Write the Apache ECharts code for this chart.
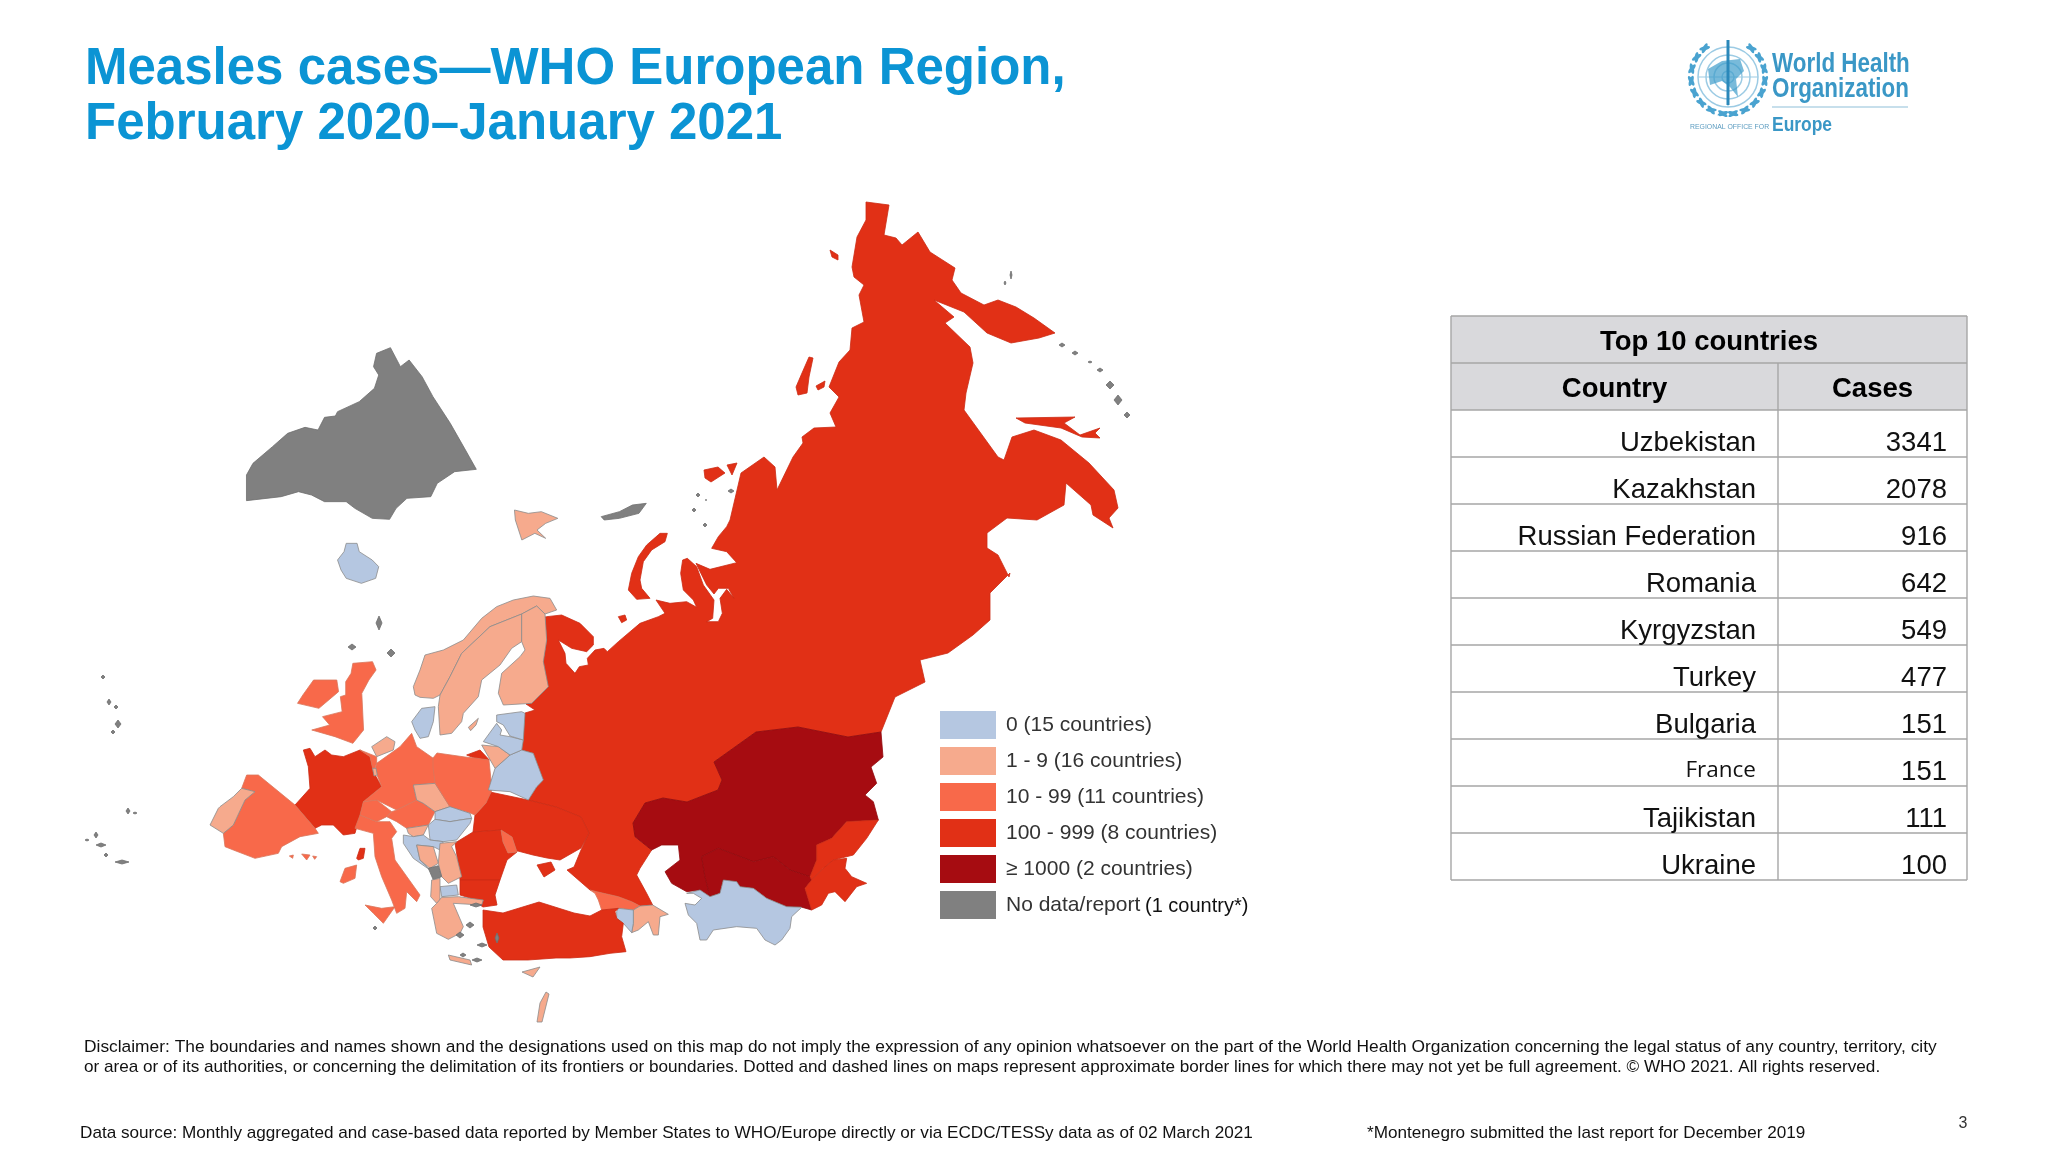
<!DOCTYPE html>
<html><head><meta charset="utf-8">
<style>html,body{margin:0;padding:0;background:#fff}#c{width:2048px;height:1152px}</style>
<script src="https://cdn.jsdelivr.net/npm/echarts@6/dist/echarts.min.js"></script>
</head><body><div id="c"></div>
<script>
// ---------- data ----------
const tableCountries = ['Uzbekistan','Kazakhstan','Russian Federation','Romania','Kyrgyzstan','Turkey','Bulgaria','France','Tajikistan','Ukraine'];
const tableCases = [3341,2078,916,642,549,477,151,151,111,100];
const legendLabels = ['0 (15 countries)','1 - 9 (16 countries)','10 - 99 (11 countries)','100 - 999 (8 countries)','≥ 1000 (2 countries)','No data/report'];
const bandColors = ['#b5c7e1','#f6aa8d','#f8694a','#e13016','#a60c11','#808080'];
const NO_DATA = 99999; // marker for "No data/report", sorted after the last band in the legend
// map regions and their case counts (bands read from the map colours; exact only for the top 10)
const regionNames = ['Russian Federation','Kazakhstan','Uzbekistan','Kyrgyzstan','Tajikistan','Turkmenistan','Georgia','Azerbaijan','Armenia','Turkey','Ukraine','Romania','Moldova','Bulgaria','France','Spain','Portugal','Italy','Switzerland','Germany','Austria','Belgium','Netherlands','Luxembourg','Czechia','Poland','Slovakia','Hungary','Slovenia','Croatia','Bosnia and Herzegovina','Serbia','Montenegro','North Macedonia','Albania','Greece','Belarus','Lithuania','Latvia','Estonia','United Kingdom','Ireland','Norway','Sweden','Finland','Denmark','Iceland','Greenland','Svalbard','Cyprus','Israel','Islands'];
const regionCases = [916,2078,3341,549,111,0,40,5,0,477,100,642,20,151,151,60,4,90,30,70,25,15,5,2,6,50,0,0,3,0,5,6,NO_DATA,0,3,5,0,4,0,0,80,45,3,6,2,0,0,NO_DATA,3,2,3,NO_DATA];

// ---------- map geometry ----------
const Z = (ox,oy,fx,pts) => pts.map(p => [ox+p[0]/fx, oy+p[1]/3]);
const Z1 = p => Z(60,180,2.306,p), Z2 = p => Z(60,620,2.8,p), Z9 = p => Z(200,700,3,p),
      ZA = p => Z(530,520,3,p), ZB = p => Z(400,590,3,p), ZC = p => Z(590,780,3,p);
const speck = (x,y,w,h) => [[x-w,y],[x,y-h],[x+w,y],[x,y+h]];
const russiaMain = [].concat(
 [[866,202],[889,205],[886,223],[884,235],[896,238],[902,245],[918,232],[930,252],[955,268],[952,280],[961,293],[984,305],[998,300],[1016,307],[1034,318],[1055,333],[1039,338],[1011,343],[987,333],[964,312],[934,300],[954,317],[945,323],[970,347],[973,363],[966,393],[964,410],[998,457],[1004,460],[1012,437],[1034,430],[1061,440],[1089,463],[1114,490],[1118,508],[1109,518],[1113,528],[1093,515],[1091,505],[1066,483],[1064,505],[1037,520],[1007,518],[987,533],[987,548],[998,555],[1009,577],[1010,573],[990,593],[990,620],[973,635],[948,653],[920,660],[925,682],[895,697],[881,732],[848,737],[798,727],[756,732],[714,762],[722,780],[718,790],[705,795],[687,802],[663,798],[645,803],[633,823],[635,837]],
 ZC([[185,210],[150,265],[140,285],[170,340],[188,375],[150,378],[125,365],[85,350],[20,335],[0,330]]),
 [[567,870],[574,867],[581,850],[589,833],[581,817],[556,807],[528,800],[537,787],[543,780],[533,753],[522,750],[523,740],[525,713],[535,710],[526,704],[532,703],[548,687],[543,662],[547,640],[545,617]],
 ZA([[50,290],[95,285],[150,310],[190,350],[190,375],[170,395],[125,385],[85,360],[105,400],[108,430],[135,460],[148,440],[175,435],[172,415],[195,390],[222,385],[232,395],[265,365],[330,310],[385,290],[405,280],[378,240],[420,250],[470,245],[500,262],[490,240],[460,210],[452,160],[458,120],[472,115],[500,140],[520,195],[552,240],[548,295],[530,305],[565,305],[577,280],[570,235],[590,208],[612,235],[595,205],[565,205],[552,222],[530,195],[498,130],[540,148],[620,128],[590,95],[545,85],[565,50],[590,20],[600,0]]),
 [[741,473],[764,457],[775,467],[777,490],[793,457],[803,443],[802,437],[814,428],[836,427],[830,413],[839,397],[829,387],[839,362],[850,350],[852,328],[864,322],[859,295],[864,285],[854,277],[852,267],[857,237],[866,220]]);
const regionShapes = {
 'Russian Federation':[russiaMain,
  ZA([[390,40],[412,40],[405,65],[365,90],[340,125],[330,180],[335,205],[360,235],[320,238],[295,210],[305,160],[325,110],[350,75]]),
  ZA([[265,290],[285,285],[290,300],[275,308]]),
  [[1016,418],[1075,417],[1064,423],[1080,435],[1100,428],[1095,433],[1100,438],[1082,437],[1061,428],[1025,423]],
  [[830,250],[838,255],[838,260],[832,257]],
  [[809,357],[813,358],[809,377],[807,393],[798,395],[796,387],[802,373]],
  [[704,470],[718,467],[725,473],[711,482],[705,478]],[[727,465],[737,463],[732,475]],
  [[816,386],[825,381],[824,387],[818,390]],
  ZB([[200,495],[240,480],[268,510],[225,505]])],
 'Kazakhstan':[[[881,732],[848,737],[798,727],[756,732],[714,762],[722,780],[718,790],[705,795],[687,802],[663,798],[645,803],[633,823]].concat(
   ZC([[135,170],[185,210],[215,195],[265,195],[270,240],[225,275],[245,310],[290,335],[330,330],[360,350],[345,290],[335,230],[385,205],[490,245],[550,230],[600,270],[660,290],[680,240],[680,195],[725,175],[770,125],[865,120],[850,65],[825,45],[860,10]]),
   [[871,767],[883,757]])],
 'Uzbekistan':[ZC([[335,230],[385,205],[490,245],[550,230],[600,270],[660,290],[665,300],[645,325],[665,390],[630,380],[590,380],[530,355],[490,325],[450,320],[440,305],[400,300],[390,340],[360,350],[345,290]])],
 'Kyrgyzstan':[ZC([[660,290],[680,240],[680,195],[725,175],[770,125],[865,120],[830,175],[790,225],[730,240],[700,265],[665,300]])],
 'Tajikistan':[ZC([[665,300],[700,265],[730,240],[770,235],[765,265],[785,290],[830,310],[800,320],[765,365],[735,335],[715,340],[695,375],[665,390],[645,325]])],
 'Turkmenistan':[ZC([[290,340],[330,330],[360,350],[390,340],[400,300],[440,305],[450,320],[490,325],[530,355],[590,380],[635,382],[605,410],[600,445],[575,480],[555,495],[525,480],[500,445],[440,440],[370,450],[350,480],[330,480],[320,430],[295,405],[285,370],[315,375],[335,355],[310,340]])],
 'Georgia':[ZC([[0,330],[20,335],[85,350],[125,365],[150,378],[130,390],[85,385],[35,390],[25,360],[15,340]])],
 'Azerbaijan':[ZC([[150,378],[188,375],[235,403],[210,410],[205,465],[190,465],[175,425],[145,450],[125,458],[130,430],[130,390]])],
 'Armenia':[ZC([[80,395],[85,385],[130,390],[130,430],[125,458],[100,430],[80,415]])],
 'Turkey':[[[483,910],[503,913],[539,902],[574,913],[590,916]].concat(ZC([[35,390],[85,385],[75,395],[80,415],[100,430],[95,470],[108,515],[60,520],[0,530]]),[[570,958],[556,958],[528,960],[503,960],[489,947],[483,927]])],
 'Ukraine':[[[490,792],[528,800],[556,807],[581,817],[589,833],[581,848],[560,860],[547,858],[533,855],[514,850],[517,852],[512,837],[501,830],[473,832],[475,815],[486,803]],
  [[537,865],[551,862],[555,870],[544,877]]],
 'Romania':[[[455,843],[473,832],[501,830],[503,842],[508,853],[517,852],[507,860],[500,880],[460,880],[458,862]]],
 'Moldova':[[[501,830],[512,837],[517,852],[508,853],[503,842]]],
 'Bulgaria':[[[460,880],[500,880],[495,895],[497,905],[483,907],[470,898],[460,895]]],
 'France':[Z9([[310,150],[330,145],[345,170],[375,150],[395,165],[430,170],[480,150],[510,170],[520,215],[545,260],[490,305],[480,345],[465,400],[430,405],[400,375],[365,375],[345,385],[285,315],[330,265],[325,200]]),
  Z9([[470,475],[480,445],[495,445],[490,475],[475,480]])],
 'Spain':[Z9([[140,225],[175,225],[285,315],[345,385],[355,400],[300,410],[245,440],[235,460],[165,475],[100,450],[75,440],[70,400],[100,375],[135,300],[165,275],[125,265]]),
  Z9([[305,462],[330,465],[320,480]]),Z9([[268,468],[280,465],[278,475]]),Z9([[338,468],[350,470],[344,478]])],
 'Portugal':[Z9([[125,265],[165,275],[135,300],[100,375],[70,400],[30,375],[55,325],[60,320],[100,290]])],
 'Italy':[Z9([[465,385],[480,345],[530,365],[570,365],[590,395],[575,415],[585,480],[660,585],[650,605],[620,575],[615,625],[590,640],[575,600],[545,530],[525,470],[520,400]]),
  Z9([[435,505],[470,495],[465,535],[430,550],[420,545]]),Z9([[495,615],[545,625],[585,620],[550,670],[520,640]])],
 'Switzerland':[Z9([[480,345],[490,305],[530,300],[575,335],[560,350],[530,365]])],
 'Germany':[Z9([[530,190],[600,140],[635,100],[650,140],[700,175],[705,250],[640,255],[650,300],[590,330],[530,300],[490,305],[545,260],[525,210]])],
 'Austria':[Z9([[575,335],[590,330],[650,300],[670,310],[705,335],[685,375],[620,385],[590,365],[560,350]])],
 'Belgium':[Z9([[480,150],[530,170],[530,190],[520,215],[510,170]])],
 'Netherlands':[Z9([[515,140],[560,110],[585,125],[580,150],[530,170]])],
 'Luxembourg':[Z9([[518,205],[528,205],[532,225],[522,228]])],
 'Czechia':[Z9([[640,255],[705,250],[750,320],[705,335],[670,310],[650,300]])],
 'Poland':[[[433,758],[437,753],[465,757],[475,758],[489,760],[492,790],[486,803],[475,815],[470,813],[450,807],[435,783],[433,767]]],
 'Slovakia':[Z9([[705,335],[750,320],[810,340],[815,355],[780,360],[750,365],[705,358]])],
 'Hungary':[Z9([[685,375],[705,358],[750,365],[780,360],[815,355],[810,370],[770,420],[730,425],[690,420]])],
 'Slovenia':[Z9([[620,385],[685,375],[670,405],[640,410],[625,400]])],
 'Croatia':[Z9([[610,405],[640,410],[670,405],[690,420],[730,425],[720,450],[700,440],[650,435],[660,480],[690,510],[640,475],[610,430]])],
 'Bosnia and Herzegovina':[Z9([[650,435],[700,440],[715,490],[690,505],[660,480]])],
 'Serbia':[Z9([[720,430],[770,425],[755,440],[770,470],[785,530],[745,550],[725,530],[715,490]])],
 'Montenegro':[Z9([[685,505],[715,497],[725,530],[700,540]])],
 'North Macedonia':[Z9([[720,560],[770,555],[775,585],[725,590]])],
 'Albania':[Z9([[695,540],[720,535],[720,600],[710,610],[692,590]])],
 'Greece':[Z9([[710,610],[725,592],[775,590],[850,600],[845,615],[760,610],[790,680],[780,700],[745,718],[710,700],[695,625]]),
  Z9([[745,765],[810,780],[815,795],[750,780]])],
 'Belarus':[ZB([[265,600],[285,535],[330,495],[365,480],[400,490],[430,570],[410,590],[385,630],[330,605]])],
 'Lithuania':[ZB([[245,465],[295,470],[330,495],[285,535],[265,500]])],
 'Latvia':[ZB([[250,455],[290,400],[305,420],[300,435],[330,440],[370,450],[365,480],[330,495],[295,470]])],
 'Estonia':[ZB([[290,375],[365,365],[375,370],[370,450],[330,438],[310,405],[290,395]])],
 'United Kingdom':[Z2([[820,130],[875,125],[885,150],[865,180],[845,220],[850,330],[820,370],[770,350],[705,330],[755,315],[735,290],[790,275],[785,230],[800,225],[800,185],[815,160]])],
 'Ireland':[Z2([[680,225],[710,180],[775,180],[780,215],[725,265],[665,250]])],
 'Norway':[ZB([[45,315],[40,290],[60,240],[75,195],[130,180],[190,150],[245,85],[290,50],[340,30],[400,18],[450,25],[470,60],[435,72],[410,48],[365,72],[270,110],[185,190],[150,260],[120,315],[100,325],[60,322]])],
 'Sweden':[ZB([[120,315],[150,260],[185,190],[270,110],[365,72],[365,155],[335,175],[300,225],[245,270],[235,320],[190,370],[185,395],[155,430],[120,435],[115,350]]),ZB([[205,412],[235,385],[228,405],[212,422]])],
 'Finland':[ZB([[365,72],[410,48],[435,72],[440,150],[430,215],[445,290],[395,340],[310,345],[295,310],[305,250],[360,200],[375,180],[365,155]])],
 'Denmark':[ZB([[35,395],[65,355],[105,350],[100,395],[85,440],[60,445],[45,420]])],
 'Iceland':[Z1([[640,1140],[655,1115],[660,1090],[685,1090],[690,1115],[720,1140],[735,1160],[728,1195],[695,1210],[660,1195],[648,1170]])],
 'Greenland':[Z1([[430,885],[445,850],[490,800],[525,760],[565,742],[595,750],[610,712],[635,708],[640,695],[690,665],[725,625],[735,585],[723,560],[730,520],[762,503],[785,560],[805,540],[835,590],[860,650],[900,730],[935,810],[960,868],[910,875],[870,910],[855,950],[800,955],[775,985],[760,1018],[720,1015],[680,985],[660,965],[610,965],[580,945],[550,935],[510,950],[430,962]])],
 'Svalbard':[Z1([[1048,990],[1080,1000],[1110,995],[1148,1015],[1120,1030],[1100,1050],[1120,1075],[1095,1060],[1065,1080],[1050,1020]])],
 'Cyprus':[[[522,972],[540,967],[533,977]]],
 'Israel':[[[546,992],[549,994],[542,1022],[537,1022],[540,1003]]],
 'Islands':[Z1([[1248,1010],[1290,995],[1320,975],[1352,970],[1335,1000],[1290,1015],[1255,1020]]),
  speck(379,623,3,7),speck(391,653,4,4),speck(352,647,4,3),speck(103,677,2,2),speck(109,702,2,3),speck(116,707,2,2),speck(118,724,3,4),speck(113,732,2,2),speck(128,811,2,3),speck(135,813,2,1),speck(96,835,2,3),speck(87,840,2,1),speck(101,845,5,2),speck(106,855,2,2),speck(122,862,7,2),
  speck(476,905,6,2),speck(470,925,4,3),speck(482,945,5,2),speck(460,935,4,3),speck(463,955,3,2),speck(477,960,5,2),speck(497,938,2,5),speck(375,928,2,2),
  speck(1062,345,3,2),speck(1075,353,3,2),speck(1090,362,2,1),speck(1100,370,3,2),speck(1110,385,4,4),speck(1118,400,4,5),speck(1127,415,3,3),speck(1011,275,1,4),speck(1005,283,1,2),
  speck(694,510,2,2),speck(698,495,2,2),speck(705,525,2,2),speck(731,491,3,2),speck(706,500,1,1)]
};
const geoJson = {type:'FeatureCollection',features:regionNames.map(n=>({type:'Feature',properties:{name:n},geometry:{type:'MultiPolygon',coordinates:regionShapes[n].map(r=>[r.concat([r[0]])])}}))};
echarts.registerMap('who',geoJson);

// ---------- page furniture ----------
const SANS = '"Liberation Sans",Arial,sans-serif';
const g = [];
const txt = (x,y,text,font,fill,align,family) => g.push({type:'text',silent:true,style:{x,y,text,font:font+' '+(family||SANS),fill,align:align||'left',verticalAlign:'middle'}});
const line = (x1,y1,x2,y2,c,w) => g.push({type:'line',silent:true,shape:{x1,y1,x2,y2},style:{stroke:c,lineWidth:w}});
// title
txt(85,70,'Measles cases—WHO European Region,','bold 51px','#0b94d4');
txt(85,125,'February 2020–January 2021','bold 51px','#0b94d4');
// table
const tx0=1451,tx1=1778,tx2=1967,ty0=316,rowH=47,hdr='#d9d9dc',tl='#a6a6a6';
g.push({type:'rect',silent:true,shape:{x:tx0,y:ty0,width:tx2-tx0,height:rowH*2},style:{fill:hdr}});
txt((tx0+tx2)/2,ty0+26,'Top 10 countries','bold 27.5px','#000','center');
txt((tx0+tx1)/2,ty0+73,'Country','bold 27.5px','#000','center');
txt((tx1+tx2)/2,ty0+73,'Cases','bold 27.5px','#000','center');
for(let i=0;i<=12;i++) line(tx0,ty0+i*rowH,tx2,ty0+i*rowH,tl,1.4);
line(tx0,ty0,tx0,ty0+12*rowH,tl,1.4); line(tx2,ty0,tx2,ty0+12*rowH,tl,1.4); line(tx1,ty0+rowH,tx1,ty0+12*rowH,tl,1.4);
tableCountries.forEach((c,i)=>{
  const y=ty0+rowH*(2+i)+33;
  if(c==='France') txt(tx1-22,y-1,c,'22.5px','#111','right','"Open Sans",sans-serif');
  else txt(tx1-22,y,c,'27.5px','#111','right');
  txt(tx2-20,y,String(tableCases[i]),'27.5px','#111','right');
});
// legend extra
txt(1145,906,'(1 country*)','20px','#111');
// footer
txt(84,1047,'Disclaimer: The boundaries and names shown and the designations used on this map do not imply the expression of any opinion whatsoever on the part of the World Health Organization concerning the legal status of any country, territory, city','17.38px','#111');
txt(84,1067,'or area or of its authorities, or concerning the delimitation of its frontiers or boundaries. Dotted and dashed lines on maps represent approximate border lines for which there may not yet be full agreement. © WHO 2021. All rights reserved.','17.15px','#111');
txt(80,1133,'Data source: Monthly aggregated and case-based data reported by Member States to WHO/Europe directly or via ECDC/TESSy data as of 02 March 2021','17.15px','#111');
txt(1367,1133,'*Montenegro submitted the last report for December 2019','17.15px','#111');
txt(1963,1124,'3','16px','#333','center');
// WHO logo
const lc='#3a97c6', cx=1728, cy=77;
[30,22,14,6].forEach(r=>g.push({type:'circle',silent:true,shape:{cx,cy,r},style:{fill:'none',stroke:'#9ccbe4',lineWidth:1.5}}));
line(cx-30,cy,cx+30,cy,'#9ccbe4',1.2); line(cx,cy-30,cx,cy+30,'#9ccbe4',1.2);
g.push({type:'polygon',silent:true,shape:{points:[[cx-20,cy-8],[cx-6,cy-16],[cx+12,cy-18],[cx+16,cy-6],[cx+8,cy+2],[cx+10,cy+20],[cx+2,cy+10],[cx-6,cy+4],[cx-18,cy+8]]},style:{fill:'#3f9ccb',opacity:0.7}});
line(cx,cy-37,cx,cy+28,'#2a88ba',3);
for(const s of [-1,1]) for(let k=0;k<8;k++) for(const off of [-0.45,0.45]){
  const t=(k*19+8)*Math.PI/180, R=37;
  const x=cx+s*R*Math.sin(t), y=cy+R*Math.cos(t);
  g.push({type:'ellipse',silent:true,shape:{cx:0,cy:0,rx:5.5,ry:2},x,y,rotation:-Math.atan2(-Math.sin(t),s*Math.cos(t))+s*off,style:{fill:'#4aa3d0'}});
}
const logoText=(x,y,t,font,fill,sx)=>g.push({type:'text',silent:true,x,y,scaleX:sx,style:{x:0,y:0,text:t,font:font+' '+SANS,fill,align:'left',verticalAlign:'middle'}});
logoText(1772,65,'World Health','bold 27px',lc,0.83);
logoText(1772,90,'Organization','bold 27px',lc,0.83);
line(1772,107,1908,107,'#8fbfd8',1);
logoText(1690,127,'REGIONAL OFFICE FOR','8px','#5c9cc0',0.86);
logoText(1772,125,'Europe','bold 21px',lc,0.83);

const chart = echarts.init(document.getElementById('c'),null,{renderer:'canvas'});
chart.setOption({
  backgroundColor:'#ffffff',animation:false,
  visualMap:{type:'piecewise',seriesIndex:0,left:940,top:711,padding:0,orient:'vertical',inverse:true,itemWidth:56,itemHeight:28,itemGap:8,textGap:10,itemSymbol:'rect',hoverLink:false,selectedMode:false,align:'left',
    textStyle:{fontFamily:SANS,fontSize:21,color:'#333'},
    pieces:[
      {min:0,max:0,label:legendLabels[0],color:bandColors[0]},
      {min:1,max:9,label:legendLabels[1],color:bandColors[1]},
      {min:10,max:99,label:legendLabels[2],color:bandColors[2]},
      {min:100,max:999,label:legendLabels[3],color:bandColors[3]},
      {min:1000,max:NO_DATA-1,label:legendLabels[4],color:bandColors[4]},
      {value:NO_DATA,label:legendLabels[5],color:bandColors[5]}]},
  series:[{type:'map',map:'who',silent:true,roam:false,left:0,top:0,width:2048,height:1152,
    boundingCoords:[[0,0],[2048,1152]],projection:{project:p=>p,unproject:p=>p},
    label:{show:false},emphasis:{disabled:true},select:{disabled:true},
    itemStyle:{borderColor:'#8c8c8c',borderWidth:0.8},
    data:regionNames.map((name,i)=>{const v=regionCases[i];return {name,value:v,itemStyle:{borderColor:v===NO_DATA?'#6f6f6f':v>=1000?'#920a0e':v>=100?'#cc2b14':v>=10?'#d9765c':'#8c8c8c'}};})
  }],
  graphic:{elements:g}
});
</script></body></html>
